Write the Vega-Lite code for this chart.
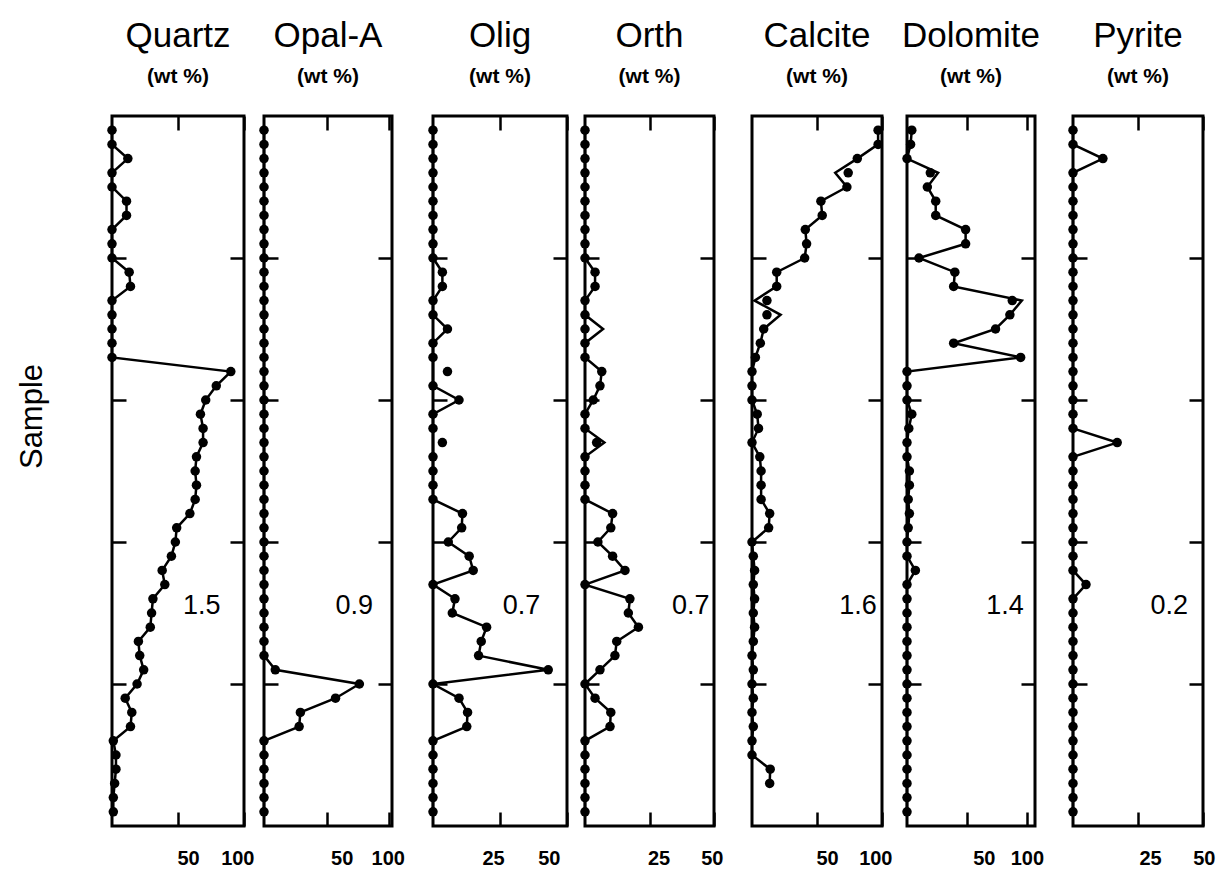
{
  "$schema": "https://vega.github.io/schema/vega-lite/v6.json",
  "background": "white",
  "padding": {"left": 14, "top": 17, "right": 5, "bottom": 5},
  "datasets": {
    "d": [
      {"s":1,"Quartz":0,"Opal":0,"Olig":0,"Orth":0,"Calcite":97,"Dolomite":4,"Pyrite":0},
      {"s":2,"Quartz":0,"Opal":0,"Olig":0,"Orth":0,"Calcite":97,"Dolomite":3,"Pyrite":0},
      {"s":3,"Quartz":12,"Opal":0,"Olig":0,"Orth":0,"Calcite":81,"Dolomite":0,"Pyrite":11.5},
      {"s":4,"Quartz":0,"Opal":0,"Olig":0,"Orth":0,"Pyrite":0},
      {"s":5,"Quartz":0,"Opal":0,"Olig":0,"Orth":0,"Calcite":73,"Dolomite":17,"Pyrite":0},
      {"s":6,"Quartz":11,"Opal":0,"Olig":0,"Orth":0,"Calcite":53,"Dolomite":24,"Pyrite":0},
      {"s":7,"Quartz":11,"Opal":0,"Olig":0,"Orth":0,"Calcite":54,"Dolomite":24,"Pyrite":0},
      {"s":8,"Quartz":0,"Opal":0,"Olig":0,"Orth":0,"Calcite":41,"Dolomite":49,"Pyrite":0},
      {"s":9,"Quartz":0,"Opal":0,"Olig":0,"Orth":0,"Calcite":42,"Dolomite":49,"Pyrite":0},
      {"s":10,"Quartz":0,"Opal":0,"Olig":0,"Orth":0,"Calcite":40.5,"Dolomite":10,"Pyrite":0},
      {"s":11,"Quartz":13,"Opal":0,"Olig":3.5,"Orth":3.9,"Calcite":19,"Dolomite":40,"Pyrite":0},
      {"s":12,"Quartz":14,"Opal":0,"Olig":3.5,"Orth":3.9,"Calcite":19,"Dolomite":39,"Pyrite":0},
      {"s":13,"Quartz":0,"Opal":0,"Olig":0,"Orth":0,"Pyrite":0},
      {"s":14,"Quartz":0,"Opal":0,"Olig":0,"Orth":0,"Dolomite":86,"Pyrite":0},
      {"s":15,"Quartz":0,"Opal":0,"Olig":5.4,"Calcite":9,"Dolomite":74,"Pyrite":0},
      {"s":16,"Quartz":0,"Opal":0,"Olig":0,"Orth":0,"Calcite":6.4,"Dolomite":39,"Pyrite":0},
      {"s":17,"Quartz":0,"Opal":0,"Olig":0,"Orth":0,"Calcite":2.6,"Dolomite":95,"Pyrite":0},
      {"s":18,"Quartz":90,"Opal":0,"Orth":6.5,"Calcite":0,"Dolomite":0,"Pyrite":0},
      {"s":19,"Quartz":79,"Opal":0,"Olig":0,"Orth":5.8,"Calcite":0,"Dolomite":0,"Pyrite":0},
      {"s":20,"Quartz":71,"Opal":0,"Olig":9.7,"Orth":3.2,"Calcite":0,"Dolomite":0,"Pyrite":0},
      {"s":21,"Quartz":67,"Opal":0,"Olig":0,"Orth":0,"Calcite":4,"Dolomite":4,"Pyrite":0},
      {"s":22,"Quartz":69,"Opal":0,"Olig":0,"Orth":0,"Calcite":5,"Dolomite":1.5,"Pyrite":0},
      {"s":23,"Quartz":69,"Opal":0,"Calcite":0,"Dolomite":0,"Pyrite":17},
      {"s":24,"Quartz":64,"Opal":0,"Olig":0,"Orth":0,"Calcite":6,"Dolomite":0,"Pyrite":0},
      {"s":25,"Quartz":63,"Opal":0,"Olig":0,"Orth":0,"Calcite":7,"Dolomite":2,"Pyrite":0},
      {"s":26,"Quartz":64,"Opal":0,"Olig":0,"Orth":0,"Calcite":7,"Dolomite":2,"Pyrite":0},
      {"s":27,"Quartz":63,"Opal":0,"Olig":0,"Orth":0,"Calcite":7,"Dolomite":1,"Pyrite":0},
      {"s":28,"Quartz":59,"Opal":0,"Olig":11,"Orth":10.7,"Calcite":13.6,"Dolomite":2,"Pyrite":0},
      {"s":29,"Quartz":49,"Opal":0,"Olig":10.7,"Orth":10,"Calcite":12.8,"Dolomite":1,"Pyrite":0},
      {"s":30,"Quartz":48,"Opal":0,"Olig":5.7,"Orth":5,"Calcite":0,"Dolomite":0,"Pyrite":0},
      {"s":31,"Quartz":45,"Opal":0,"Olig":13.5,"Orth":10.7,"Calcite":1,"Dolomite":0,"Pyrite":0},
      {"s":32,"Quartz":38,"Opal":0,"Olig":15,"Orth":15.5,"Calcite":2,"Dolomite":7,"Pyrite":0},
      {"s":33,"Quartz":40,"Opal":0,"Olig":0,"Orth":0,"Calcite":1,"Dolomite":0,"Pyrite":5},
      {"s":34,"Quartz":31,"Opal":0,"Olig":8.2,"Orth":17.4,"Calcite":2,"Dolomite":0,"Pyrite":0},
      {"s":35,"Quartz":30,"Opal":0,"Olig":7.2,"Orth":16.8,"Calcite":1,"Dolomite":0,"Pyrite":0},
      {"s":36,"Quartz":29,"Opal":0,"Olig":20,"Orth":20.7,"Calcite":2,"Dolomite":0,"Pyrite":0},
      {"s":37,"Quartz":20,"Opal":0,"Olig":18,"Orth":12.3,"Calcite":1,"Dolomite":0,"Pyrite":0},
      {"s":38,"Quartz":21,"Opal":0,"Olig":17,"Orth":11.6,"Calcite":0,"Dolomite":0,"Pyrite":0},
      {"s":39,"Quartz":24,"Opal":9,"Olig":43,"Orth":5.8,"Calcite":1,"Dolomite":0,"Pyrite":0},
      {"s":40,"Quartz":19,"Opal":76,"Olig":0,"Orth":0,"Calcite":0,"Dolomite":0,"Pyrite":0},
      {"s":41,"Quartz":10,"Opal":57,"Olig":9.7,"Orth":3.9,"Calcite":1,"Dolomite":0,"Pyrite":0},
      {"s":42,"Quartz":15,"Opal":29,"Olig":12.9,"Orth":10,"Calcite":0,"Dolomite":0,"Pyrite":0},
      {"s":43,"Quartz":14,"Opal":28,"Olig":12.6,"Orth":9.7,"Calcite":1,"Dolomite":0,"Pyrite":0},
      {"s":44,"Quartz":1,"Opal":0,"Olig":0,"Orth":0,"Calcite":0,"Dolomite":0,"Pyrite":0},
      {"s":45,"Quartz":3,"Opal":0,"Olig":0,"Orth":0,"Calcite":0,"Dolomite":0,"Pyrite":0},
      {"s":46,"Quartz":3,"Opal":0,"Olig":0,"Orth":0,"Calcite":14,"Dolomite":0,"Pyrite":0},
      {"s":47,"Quartz":2,"Opal":0,"Olig":0,"Orth":0,"Calcite":13.6,"Dolomite":0,"Pyrite":0},
      {"s":48,"Quartz":1,"Opal":0,"Olig":0,"Orth":0,"Dolomite":0,"Pyrite":0},
      {"s":49,"Quartz":1,"Opal":0,"Olig":0,"Orth":0,"Dolomite":0,"Pyrite":0},
      {"s":4,"k":"pt","Calcite":74,"Dolomite":19.5},
      {"s":4,"k":"ln","Calcite":64,"Dolomite":26},
      {"s":13,"k":"pt","Calcite":11.5,"Dolomite":88},
      {"s":13,"k":"ln","Calcite":2,"Dolomite":96},
      {"s":14,"k":"pt","Calcite":11.5},
      {"s":14,"k":"ln","Calcite":22},
      {"s":15,"k":"pt","Orth":0},
      {"s":15,"k":"ln","Orth":7},
      {"s":18,"k":"pt","Olig":5.4},
      {"s":18,"k":"ln","Olig":0},
      {"s":23,"k":"pt","Olig":3.5,"Orth":4.5},
      {"s":23,"k":"ln","Olig":0,"Orth":7.5}
    ],
    "labels": [
      {"m":"Quartz","t":"1.5"},
      {"m":"Opal","t":"0.9"},
      {"m":"Olig","t":"0.7"},
      {"m":"Orth","t":"0.7"},
      {"m":"Calcite","t":"1.6"},
      {"m":"Dolomite","t":"1.4"},
      {"m":"Pyrite","t":"0.2"}
    ]
  },
  "data": {"name": "d"},
  "spacing": 20,
  "hconcat": [
    {
      "spacing": 20,
      "bounds": "flush",
      "hconcat": [
        {
          "width": 132, "height": 710,
          "title": {"text": "Quartz", "subtitle": "(wt %)"},
          "layer": [
            {"transform": [{"filter": "datum.k != 'pt' && isValid(datum.Quartz)"}],
             "mark": {"type": "line", "color": "black", "strokeWidth": 2.5},
             "encoding": {
               "x": {"field": "Quartz", "type": "quantitative", "scale": {"domain": [0, 100], "nice": false}, "axis": {"orient": "bottom", "values": [50, 100], "title": null, "labelOffset": 10}},
               "y": {"field": "s", "type": "quantitative", "scale": {"domain": [0, 50], "reverse": true, "nice": false}, "axis": {"orient": "left", "values": [10, 20, 30, 40], "labels": false, "title": "Sample", "titleFont": "Liberation Sans", "titleFontSize": 31, "titleFontWeight": "normal", "titleColor": "black", "titleX": -80, "titleY": 300, "titleAngle": -90, "titleAlign": "center", "titleBaseline": "middle"}},
               "order": {"field": "s", "type": "quantitative"}}},
            {"transform": [{"filter": "datum.k != 'ln' && isValid(datum.Quartz)"}],
             "mark": {"type": "circle", "color": "black", "size": 90, "opacity": 1},
             "encoding": {
               "x": {"field": "Quartz", "type": "quantitative", "axis": {"orient": "top", "values": [50, 100], "labels": false, "title": null}},
               "y": {"field": "s", "type": "quantitative", "axis": {"orient": "right", "values": [10, 20, 30, 40], "labels": false, "title": null}}}},
            {"data": {"name": "labels"}, "transform": [{"filter": "datum.m == 'Quartz'"}],
             "mark": {"type": "text", "fontSize": 27, "font": "Liberation Sans", "color": "black"},
             "encoding": {"x": {"datum": 68, "type": "quantitative", "axis": null}, "y": {"datum": 34.5, "type": "quantitative", "axis": null}, "text": {"field": "t"}}}
          ],
          "resolve": {"axis": {"x": "independent", "y": "independent"}}
        },
        {
          "width": 128, "height": 710,
          "title": {"text": "Opal-A", "subtitle": "(wt %)"},
          "layer": [
            {"transform": [{"filter": "datum.k != 'pt' && isValid(datum.Opal)"}],
             "mark": {"type": "line", "color": "black", "strokeWidth": 2.5},
             "encoding": {
               "x": {"field": "Opal", "type": "quantitative", "scale": {"domain": [0, 102], "nice": false}, "axis": {"orient": "bottom", "values": [50, 100], "title": null, "labelOffset": 15}},
               "y": {"field": "s", "type": "quantitative", "scale": {"domain": [0, 50], "reverse": true, "nice": false}, "axis": {"orient": "left", "values": [10, 20, 30, 40], "labels": false, "title": null}},
               "order": {"field": "s", "type": "quantitative"}}},
            {"transform": [{"filter": "datum.k != 'ln' && isValid(datum.Opal)"}],
             "mark": {"type": "circle", "color": "black", "size": 90, "opacity": 1},
             "encoding": {
               "x": {"field": "Opal", "type": "quantitative", "axis": {"orient": "top", "values": [50, 100], "labels": false, "title": null}},
               "y": {"field": "s", "type": "quantitative", "axis": {"orient": "right", "values": [10, 20, 30, 40], "labels": false, "title": null}}}},
            {"data": {"name": "labels"}, "transform": [{"filter": "datum.m == 'Opal'"}],
             "mark": {"type": "text", "fontSize": 27, "font": "Liberation Sans", "color": "black"},
             "encoding": {"x": {"datum": 72, "type": "quantitative", "axis": null}, "y": {"datum": 34.5, "type": "quantitative", "axis": null}, "text": {"field": "t"}}}
          ],
          "resolve": {"axis": {"x": "independent", "y": "independent"}}
        }
      ]
    },
    {
      "spacing": 18,
      "bounds": "flush",
      "hconcat": [
        {
          "width": 134, "height": 710,
          "title": {"text": "Olig", "subtitle": "(wt %)"},
          "layer": [
            {"transform": [{"filter": "datum.k != 'pt' && isValid(datum.Olig)"}],
             "mark": {"type": "line", "color": "black", "strokeWidth": 2.5},
             "encoding": {
               "x": {"field": "Olig", "type": "quantitative", "scale": {"domain": [0, 50], "nice": false}, "axis": {"orient": "bottom", "values": [25, 50], "title": null, "labelOffset": -7}},
               "y": {"field": "s", "type": "quantitative", "scale": {"domain": [0, 50], "reverse": true, "nice": false}, "axis": {"orient": "left", "values": [10, 20, 30, 40], "labels": false, "title": null}},
               "order": {"field": "s", "type": "quantitative"}}},
            {"transform": [{"filter": "datum.k != 'ln' && isValid(datum.Olig)"}],
             "mark": {"type": "circle", "color": "black", "size": 90, "opacity": 1},
             "encoding": {
               "x": {"field": "Olig", "type": "quantitative", "axis": {"orient": "top", "values": [25, 50], "labels": false, "title": null}},
               "y": {"field": "s", "type": "quantitative", "axis": {"orient": "right", "values": [10, 20, 30, 40], "labels": false, "title": null}}}},
            {"data": {"name": "labels"}, "transform": [{"filter": "datum.m == 'Olig'"}],
             "mark": {"type": "text", "fontSize": 27, "font": "Liberation Sans", "color": "black"},
             "encoding": {"x": {"datum": 33, "type": "quantitative", "axis": null}, "y": {"datum": 34.5, "type": "quantitative", "axis": null}, "text": {"field": "t"}}}
          ],
          "resolve": {"axis": {"x": "independent", "y": "independent"}}
        },
        {
          "width": 129, "height": 710,
          "title": {"text": "Orth", "subtitle": "(wt %)"},
          "layer": [
            {"transform": [{"filter": "datum.k != 'pt' && isValid(datum.Orth)"}],
             "mark": {"type": "line", "color": "black", "strokeWidth": 2.5},
             "encoding": {
               "x": {"field": "Orth", "type": "quantitative", "scale": {"domain": [0, 50], "nice": false}, "axis": {"orient": "bottom", "values": [25, 50], "title": null, "labelOffset": 9}},
               "y": {"field": "s", "type": "quantitative", "scale": {"domain": [0, 50], "reverse": true, "nice": false}, "axis": {"orient": "left", "values": [10, 20, 30, 40], "labels": false, "title": null}},
               "order": {"field": "s", "type": "quantitative"}}},
            {"transform": [{"filter": "datum.k != 'ln' && isValid(datum.Orth)"}],
             "mark": {"type": "circle", "color": "black", "size": 90, "opacity": 1},
             "encoding": {
               "x": {"field": "Orth", "type": "quantitative", "axis": {"orient": "top", "values": [25, 50], "labels": false, "title": null}},
               "y": {"field": "s", "type": "quantitative", "axis": {"orient": "right", "values": [10, 20, 30, 40], "labels": false, "title": null}}}},
            {"data": {"name": "labels"}, "transform": [{"filter": "datum.m == 'Orth'"}],
             "mark": {"type": "text", "fontSize": 27, "font": "Liberation Sans", "color": "black"},
             "encoding": {"x": {"datum": 41, "type": "quantitative", "axis": null}, "y": {"datum": 34.5, "type": "quantitative", "axis": null}, "text": {"field": "t"}}}
          ],
          "resolve": {"axis": {"x": "independent", "y": "independent"}}
        }
      ]
    },
    {
      "spacing": 25,
      "bounds": "flush",
      "hconcat": [
        {
          "width": 130, "height": 710,
          "title": {"text": "Calcite", "subtitle": "(wt %)"},
          "layer": [
            {"transform": [{"filter": "datum.k != 'pt' && isValid(datum.Calcite)"}],
             "mark": {"type": "line", "color": "black", "strokeWidth": 2.5},
             "encoding": {
               "x": {"field": "Calcite", "type": "quantitative", "scale": {"domain": [0, 100], "nice": false}, "axis": {"orient": "bottom", "values": [50, 100], "title": null, "labelOffset": 10}},
               "y": {"field": "s", "type": "quantitative", "scale": {"domain": [0, 50], "reverse": true, "nice": false}, "axis": {"orient": "left", "values": [10, 20, 30, 40], "labels": false, "title": null}},
               "order": {"field": "s", "type": "quantitative"}}},
            {"transform": [{"filter": "datum.k != 'ln' && isValid(datum.Calcite)"}],
             "mark": {"type": "circle", "color": "black", "size": 90, "opacity": 1},
             "encoding": {
               "x": {"field": "Calcite", "type": "quantitative", "axis": {"orient": "top", "values": [50, 100], "labels": false, "title": null}},
               "y": {"field": "s", "type": "quantitative", "axis": {"orient": "right", "values": [10, 20, 30, 40], "labels": false, "title": null}}}},
            {"data": {"name": "labels"}, "transform": [{"filter": "datum.m == 'Calcite'"}],
             "mark": {"type": "text", "fontSize": 27, "font": "Liberation Sans", "color": "black"},
             "encoding": {"x": {"datum": 81.5, "type": "quantitative", "axis": null}, "y": {"datum": 34.5, "type": "quantitative", "axis": null}, "text": {"field": "t"}}}
          ],
          "resolve": {"axis": {"x": "independent", "y": "independent"}}
        },
        {
          "width": 128, "height": 710,
          "title": {"text": "Dolomite", "subtitle": "(wt %)"},
          "layer": [
            {"transform": [{"filter": "datum.k != 'pt' && isValid(datum.Dolomite)"}],
             "mark": {"type": "line", "color": "black", "strokeWidth": 2.5},
             "encoding": {
               "x": {"field": "Dolomite", "type": "quantitative", "scale": {"domain": [0, 107], "nice": false}, "axis": {"orient": "bottom", "values": [50, 100], "title": null, "labelOffset": 17}},
               "y": {"field": "s", "type": "quantitative", "scale": {"domain": [0, 50], "reverse": true, "nice": false}, "axis": {"orient": "left", "values": [10, 20, 30, 40], "labels": false, "title": null}},
               "order": {"field": "s", "type": "quantitative"}}},
            {"transform": [{"filter": "datum.k != 'ln' && isValid(datum.Dolomite)"}],
             "mark": {"type": "circle", "color": "black", "size": 90, "opacity": 1},
             "encoding": {
               "x": {"field": "Dolomite", "type": "quantitative", "axis": {"orient": "top", "values": [50, 100], "labels": false, "title": null}},
               "y": {"field": "s", "type": "quantitative", "axis": {"orient": "right", "values": [10, 20, 30, 40], "labels": false, "title": null}}}},
            {"data": {"name": "labels"}, "transform": [{"filter": "datum.m == 'Dolomite'"}],
             "mark": {"type": "text", "fontSize": 27, "font": "Liberation Sans", "color": "black"},
             "encoding": {"x": {"datum": 82, "type": "quantitative", "axis": null}, "y": {"datum": 34.5, "type": "quantitative", "axis": null}, "text": {"field": "t"}}}
          ],
          "resolve": {"axis": {"x": "independent", "y": "independent"}}
        }
      ]
    },
    {
      "width": 130, "height": 710,
      "title": {"text": "Pyrite", "subtitle": "(wt %)"},
      "layer": [
        {"transform": [{"filter": "datum.k != 'pt' && isValid(datum.Pyrite)"}],
         "mark": {"type": "line", "color": "black", "strokeWidth": 2.5},
         "encoding": {
           "x": {"field": "Pyrite", "type": "quantitative", "scale": {"domain": [0, 50], "nice": false}, "axis": {"orient": "bottom", "values": [25, 50], "title": null, "labelOffset": 12}},
           "y": {"field": "s", "type": "quantitative", "scale": {"domain": [0, 50], "reverse": true, "nice": false}, "axis": {"orient": "left", "values": [10, 20, 30, 40], "labels": false, "title": null}},
           "order": {"field": "s", "type": "quantitative"}}},
        {"transform": [{"filter": "datum.k != 'ln' && isValid(datum.Pyrite)"}],
         "mark": {"type": "circle", "color": "black", "size": 90, "opacity": 1},
         "encoding": {
           "x": {"field": "Pyrite", "type": "quantitative", "axis": {"orient": "top", "values": [25, 50], "labels": false, "title": null}},
           "y": {"field": "s", "type": "quantitative", "axis": {"orient": "right", "values": [10, 20, 30, 40], "labels": false, "title": null}}}},
        {"data": {"name": "labels"}, "transform": [{"filter": "datum.m == 'Pyrite'"}],
         "mark": {"type": "text", "fontSize": 27, "font": "Liberation Sans", "color": "black"},
         "encoding": {"x": {"datum": 37, "type": "quantitative", "axis": null}, "y": {"datum": 34.5, "type": "quantitative", "axis": null}, "text": {"field": "t"}}}
      ],
      "resolve": {"axis": {"x": "independent", "y": "independent"}}
    }
  ],
  "config": {
    "font": "Liberation Sans",
    "view": {"stroke": "black", "strokeWidth": 3},
    "axis": {
      "domain": false,
      "grid": false,
      "ticks": true,
      "tickColor": "black",
      "tickWidth": 2.5,
      "tickSize": -14,
      "labelFont": "Liberation Sans",
      "labelFontSize": 20,
      "labelFontWeight": "bold",
      "labelColor": "black",
      "labelPadding": 36,
      "labelFlush": 10
    },
    "title": {
      "font": "Liberation Sans",
      "fontSize": 35,
      "fontWeight": "normal",
      "color": "black",
      "subtitleFont": "Liberation Sans",
      "subtitleFontSize": 21,
      "subtitleFontWeight": "bold",
      "subtitleColor": "black",
      "subtitlePadding": 12,
      "offset": 28,
      "anchor": "middle"
    }
  }
}
